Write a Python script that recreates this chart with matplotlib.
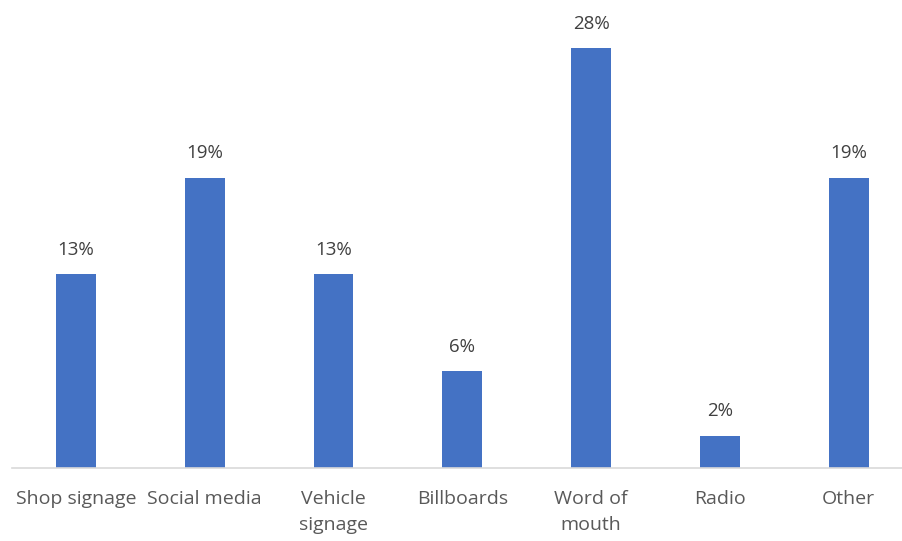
import matplotlib.pyplot as plt
import numpy as np

categories = ["Shop signage", "Social media", "Vehicle\nsignage", "Billboards",
              "Word of\nmouth", "Radio", "Other"]
shares = [12.77, 19.15, 12.77, 6.38, 27.66, 2.13, 19.15]

plt.rcParams['font.family'] = ['Open Sans', 'DejaVu Sans']

fig = plt.figure(figsize=(9.02, 5.41), dpi=100)
base_y = 1 - 468 / 541
ax = fig.add_axes([11.6 / 902, base_y, (902 - 11.6) / 902, 455 / 541])

x = np.arange(len(categories))
bars = ax.bar(x, shares, width=0.31, color="#4472C4")
ax.set_xlim(-0.5, 6.5 - 11 / 128.8)
ax.set_ylim(0, 30)

for b, v in zip(bars, shares):
    ax.annotate(f"{v:.0f}%", xy=(b.get_x() + b.get_width() / 2, b.get_height()),
                xytext=(0, 11), textcoords="offset points", ha="center", va="bottom",
                fontsize=13.5, color="#404040")

ax.set_xticks(x)
ax.set_xticklabels(categories, fontsize=14, color="#595959", linespacing=1.55)
ax.tick_params(axis="x", length=0, pad=16)
ax.set_yticks([])
for s in ["top", "right", "left"]:
    ax.spines[s].set_visible(False)
ax.spines["bottom"].set_color("#D9D9D9")
ax.spines["bottom"].set_linewidth(1.2)

fig.savefig("out.png", dpi=100)
